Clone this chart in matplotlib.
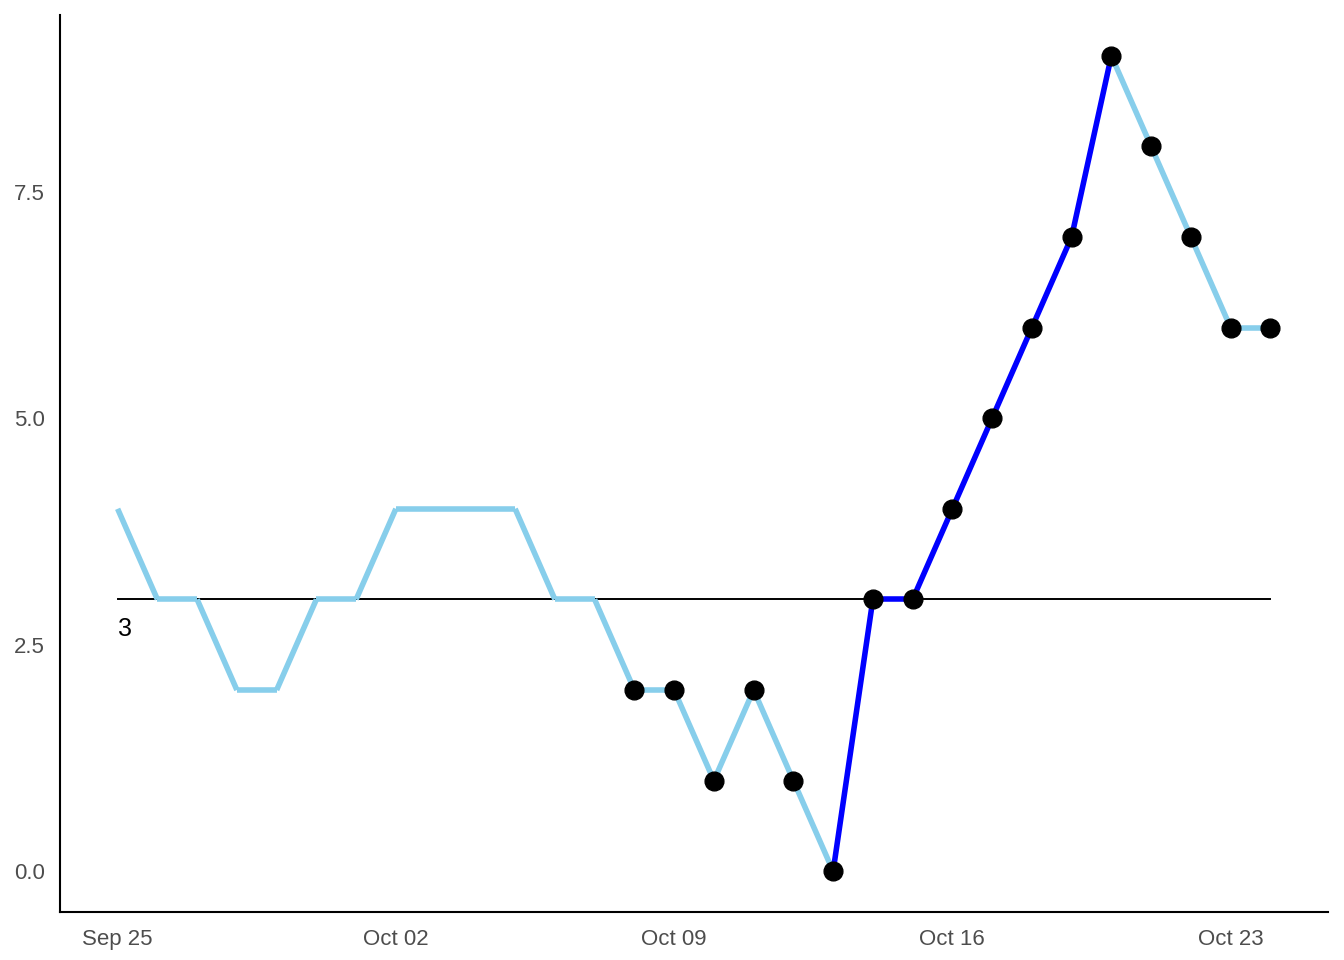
# run chart: daily counts with median line, highlighted shift in dark blue

import numpy as np
import pandas as pd
import matplotlib
matplotlib.use("Agg")
import matplotlib.pyplot as plt
import matplotlib.dates as mdates

dates = pd.date_range("2023-09-25", "2023-10-24", freq="D")
values = [4, 3, 3, 2, 2, 3, 3, 4, 4, 4, 4, 3, 3,
          2, 2, 1, 2, 1, 0, 3, 3, 4, 5, 6, 7, 9, 8, 7, 6, 6]
# segment starting at this date is part of the highlighted run
highlight = [False] * 18 + [True] * 7 + [False] * 5
# points are shown from here on
show_point = [False] * 13 + [True] * 17
median_value = 3

LIGHT = "#87CEEB"
DARK = "#0000FF"

plt.rcParams["font.family"] = ["Liberation Sans", "DejaVu Sans"]

fig = plt.figure(figsize=(13.44, 9.6), dpi=100)
ax = fig.add_axes([60 / 1344, 48 / 960, 1268 / 1344, 897 / 960])

x = mdates.date2num(dates)
y = np.array(values, dtype=float)

# median line first so the data sits on top of it
ax.plot([x[0], x[-1]], [median_value, median_value], color="black", lw=1.4, zorder=1)
ax.text(x[0], median_value - 0.19, str(median_value), ha="left", va="top",
        fontsize=18, color="black")

for i in range(len(x) - 1):
    colour = DARK if highlight[i] else LIGHT
    ax.plot(x[i:i + 2], y[i:i + 2], color=colour, lw=4,
            solid_capstyle="butt", zorder=2)

mask = np.array(show_point)
ax.plot(x[mask], y[mask], "o", color="black", markersize=13.5, zorder=3)

span = x[-1] - x[0]
ax.set_xlim(x[0] - 0.05 * span, x[-1] + 0.05 * span)
ax.set_ylim(-0.45, 9.45)

ticks = mdates.date2num(pd.to_datetime(["2023-09-25", "2023-10-02", "2023-10-09",
                                        "2023-10-16", "2023-10-23"]))
ax.set_xticks(ticks)
ax.set_xticklabels(["Sep 25", "Oct 02", "Oct 09", "Oct 16", "Oct 23"])
ax.set_yticks([0, 2.5, 5, 7.5])
ax.set_yticklabels(["0.0", "2.5", "5.0", "7.5"])
ax.tick_params(length=0, labelsize=16, labelcolor="#4D4D4D")
ax.tick_params(axis="x", pad=12)
ax.tick_params(axis="y", pad=11)

for side in ("top", "right"):
    ax.spines[side].set_visible(False)
for side in ("left", "bottom"):
    ax.spines[side].set_linewidth(1.5)

fig.savefig("out.png", dpi=100)
